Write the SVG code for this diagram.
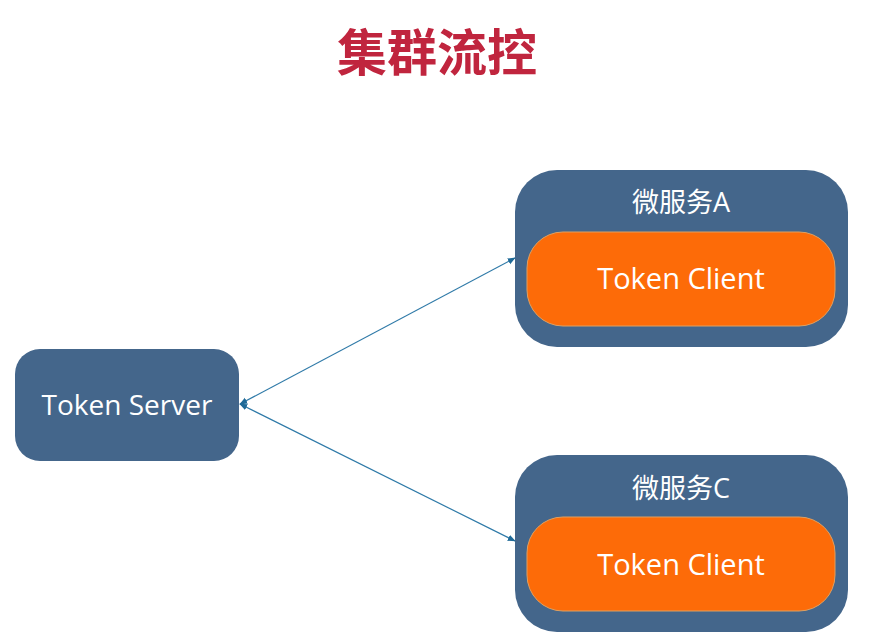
<svg xmlns="http://www.w3.org/2000/svg" width="875" height="642" viewBox="0 0 875 642">
<defs>
<style>
.box{fill:#44668b}
.inner{fill:#fd6b08;stroke:#e0a060;stroke-width:1}
.t{font-family:"Open Sans","Noto Sans","Noto Sans CJK SC",sans-serif;fill:#fff;text-anchor:middle}
.c{stroke:#2f7aa8;stroke-width:1.2;fill:none;marker-start:url(#a);marker-end:url(#a)}
</style>
<marker id="a" viewBox="0 0 10 10" refX="9" refY="5" markerWidth="8" markerHeight="8" orient="auto-start-reverse" markerUnits="userSpaceOnUse"><path d="M0,1 L10,5 L0,9 Z" fill="#1f6a98"/></marker>
</defs>
<rect width="875" height="642" fill="#fff"/>
<text x="437" y="71" font-family="Noto Sans CJK SC,sans-serif" font-weight="bold" font-size="50" fill="#c0253e" text-anchor="middle">集群流控</text>
<g id="connectors">
<line class="c" x1="240" y1="404" x2="515" y2="258"/>
<line class="c" x1="240" y1="404" x2="515" y2="541"/>
</g>
<g id="server">
<rect class="box" x="15" y="349" width="224" height="112" rx="25"/>
<text class="t" x="127" y="415" font-size="28">Token Server</text>
</g>
<g id="svcA">
<rect class="box" x="515" y="170" width="333" height="177" rx="42"/>
<text class="t" x="681" y="212" font-size="27">微服务A</text>
<rect class="inner" x="527" y="232" width="308" height="94" rx="36"/>
<text class="t" x="681" y="289" font-size="29">Token Client</text>
</g>
<g id="svcC">
<rect class="box" x="515" y="455" width="333" height="177" rx="42"/>
<text class="t" x="681" y="498" font-size="27">微服务C</text>
<rect class="inner" x="527" y="517" width="308" height="94" rx="36"/>
<text class="t" x="681" y="575" font-size="29">Token Client</text>
</g>
</svg>
